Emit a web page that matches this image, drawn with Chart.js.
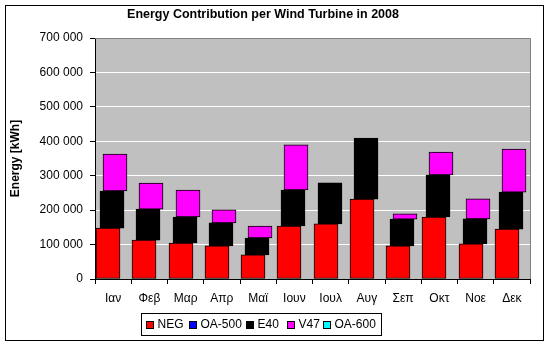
<!DOCTYPE html>
<html>
<head>
<meta charset="utf-8">
<script src="https://cdn.jsdelivr.net/npm/chart.js@4.4.1/dist/chart.umd.min.js"></script>
<style>
  html, body { margin: 0; padding: 0; background: #fff; }
  #wrap { width: 549px; height: 345px; }
</style>
</head>
<body>
<div id="wrap"><canvas id="energyChart" width="549" height="345"></canvas></div>
<script>
const chartTitle = 'Energy Contribution per Wind Turbine in 2008';
const months = ['Ιαν', 'Φεβ', 'Μαρ', 'Απρ', 'Μαϊ', 'Ιουν', 'Ιουλ', 'Αυγ', 'Σεπ', 'Οκτ', 'Νοε', 'Δεκ'];
const seriesNames = ['NEG', 'OA-500', 'E40', 'V47', 'OA-600'];
const seriesColors = ['#ff0000', '#0000ff', '#000000', '#ff00ff', '#00ffff'];

// kWh per month for each turbine
const neg   = [148000, 113000, 104500, 96000, 70000, 154000, 160000, 232000, 96000, 180000, 102000, 145000];
const oa500 = [0, 0, 0, 0, 0, 0, 0, 0, 0, 0, 0, 0];
const e40   = [107500, 90000, 75500, 67000, 49000, 104500, 119000, 177000, 78000, 122000, 72500, 107500];
const v47   = [107500, 75500, 78500, 38000, 35000, 131000, 0, 0, 15000, 67000, 58000, 125000];
const oa600 = [0, 0, 0, 0, 0, 0, 0, 0, 0, 0, 0, 0];

const yTickLabels = ['0', '100 000', '200 000', '300 000', '400 000', '500 000', '600 000', '700 000'];

const FONT = '"Liberation Sans", Arial, sans-serif';
Chart.defaults.font.family = FONT;
Chart.defaults.font.size = 12;
Chart.defaults.color = '#000';

// each series is nudged sideways a little so the stacks overlap like in Excel
const seriesShift = [-5, -3, -1, 2, 4];
// left edge of each legend swatch
const legendX = [146, 189, 246, 287, 323];

const excelLook = {
  id: 'excelLook',
  afterDatasetsUpdate(chart) {
    chart.data.datasets.forEach((ds, i) => {
      chart.getDatasetMeta(i).data.forEach(bar => {
        bar.x = Math.round(bar.x + seriesShift[i]);
      });
    });
  },
  beforeDraw(chart) {
    const { ctx, chartArea: a } = chart;
    ctx.save();
    ctx.fillStyle = '#fff';
    ctx.fillRect(0, 0, chart.width, chart.height);
    ctx.fillStyle = '#c0c0c0';
    ctx.fillRect(a.left, a.top, a.right - a.left, a.bottom - a.top);
    ctx.strokeStyle = '#000';
    ctx.lineWidth = 1;
    ctx.strokeRect(5.5, 5.5, 538, 335);
    ctx.restore();
  },
  afterDraw(chart) {
    const { ctx, chartArea: a } = chart;
    ctx.save();
    // grey frame on top and right of the plot
    ctx.strokeStyle = '#808080';
    ctx.lineWidth = 1;
    ctx.beginPath();
    ctx.moveTo(a.left, a.top + 0.5);
    ctx.lineTo(a.right + 0.5, a.top + 0.5);
    ctx.lineTo(a.right + 0.5, a.bottom);
    ctx.stroke();

    // title
    ctx.fillStyle = '#000';
    ctx.font = 'bold 12.5px ' + FONT;
    ctx.textAlign = 'center';
    ctx.textBaseline = 'middle';
    ctx.fillText(chartTitle, 263, 15);

    // legend
    ctx.font = '12px ' + FONT;
    ctx.textAlign = 'left';
    ctx.strokeStyle = '#000';
    ctx.strokeRect(141.5, 313.5, 240, 22);
    seriesNames.forEach((name, i) => {
      const x = legendX[i];
      ctx.fillStyle = '#000';
      ctx.fillRect(x, 321, 8, 8);
      ctx.fillStyle = seriesColors[i];
      ctx.fillRect(x + 1, 322, 6, 6);
      ctx.fillStyle = '#000';
      ctx.fillText(name, x + 11.5, 325);
    });
    ctx.restore();
  }
};

const seriesData = [neg, oa500, e40, v47, oa600];

new Chart(document.getElementById('energyChart'), {
  type: 'bar',
  data: {
    labels: months,
    datasets: seriesNames.map((name, i) => ({
      label: name,
      data: seriesData[i],
      backgroundColor: seriesColors[i],
      borderColor: '#000',
      borderWidth: 1,
      borderSkipped: false,
      barThickness: 24
    }))
  },
  options: {
    responsive: false,
    animation: false,
    events: [],
    layout: { padding: { left: 8, right: 19, top: 38, bottom: 36 } },
    plugins: {
      legend: { display: false },
      title: { display: false },
      tooltip: { enabled: false }
    },
    scales: {
      x: {
        stacked: true,
        offset: true,
        afterFit: s => { s.height = 30; },
        grid: {
          offset: true,
          drawOnChartArea: false,
          tickLength: 5,
          tickColor: '#000'
        },
        border: { color: '#000' },
        ticks: { padding: 7, maxRotation: 0, autoSkip: false }
      },
      y: {
        stacked: true,
        min: 0,
        max: 700000,
        afterFit: s => { s.width = 87; },
        grid: {
          color: c => (c.tick && (c.tick.value === 0 || c.tick.value === 700000)) ? 'rgba(0,0,0,0)' : '#ffffff',
          tickLength: 5,
          tickColor: '#000'
        },
        border: { color: '#000' },
        ticks: {
          stepSize: 100000,
          padding: 7,
          callback: (v, idx) => yTickLabels[idx]
        },
        title: {
          display: true,
          text: 'Energy [kWh]',
          font: { weight: 'bold', size: 12 },
          padding: 0
        }
      }
    }
  },
  plugins: [excelLook]
});
</script>
</body>
</html>
